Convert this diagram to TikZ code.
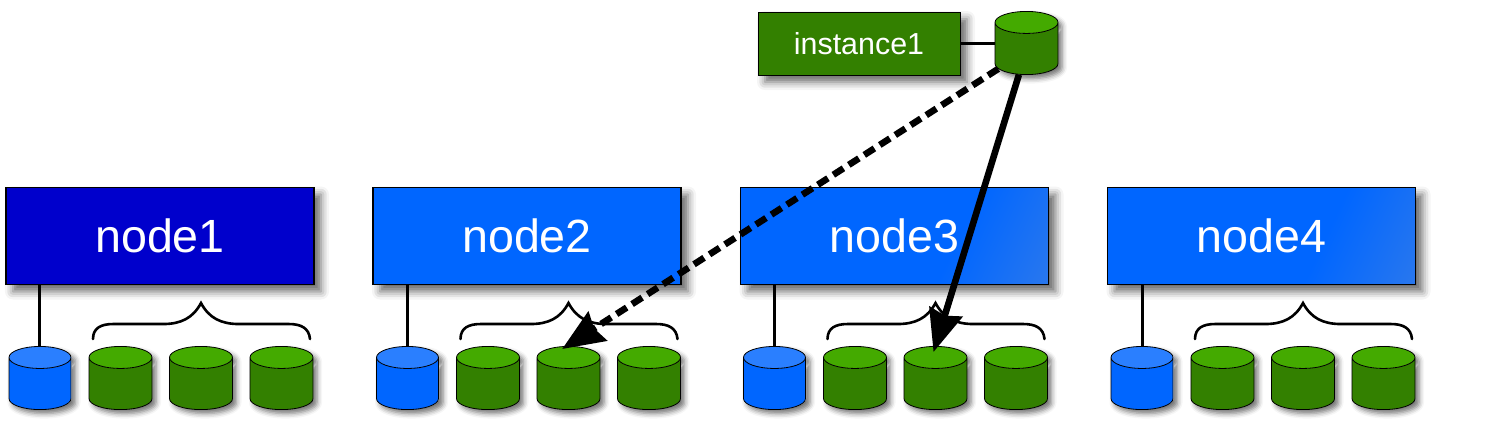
\documentclass[tikz,border=0pt]{standalone}
\usepackage{fontspec}
\setmainfont{Liberation Sans}
\usetikzlibrary{arrows.meta}
\usetikzlibrary{calc}
\usetikzlibrary{shadows.blur}
\usetikzlibrary{shapes.geometric}
\definecolor{nodeblue}{HTML}{0066FF}
\definecolor{nodedark}{HTML}{0000CC}
\definecolor{nodepale}{HTML}{4A85E0}
\definecolor{diskblue}{HTML}{2A7FFF}
\definecolor{diskgreen}{HTML}{338000}
\definecolor{disklight}{HTML}{44AA00}
\pgfdeclarehorizontalshading{nodefade}{100bp}{color(0bp)=(nodeblue); color(62bp)=(nodeblue); color(100bp)=(nodepale)}
\tikzset{
  boxdrop/.style={blur shadow={shadow xshift=3.5pt,shadow yshift=-3.5pt,shadow blur radius=4pt,shadow opacity=60}},
  nodebox/.style={boxdrop,draw=black,line width=.6pt,text=white,font=\fontsize{23.3}{23.3}\selectfont,
    minimum width=154pt,minimum height=48.5pt,inner sep=0pt},
  instbox/.style={boxdrop,draw=black,line width=.5pt,fill=diskgreen,text=white,font=\fontsize{15.2}{15.2}\selectfont,
    minimum width=101pt,minimum height=31.5pt,inner sep=0pt},
  diskform/.style={shape=cylinder,shape border rotate=90,shape aspect=.55,anchor=shape center,line width=.4pt,
    minimum width=31.5pt,minimum height=29.5pt,inner sep=10pt},
  diskshade/.style={diskform,fill=white,
    blur shadow={shadow xshift=2pt,shadow yshift=-2pt,shadow blur radius=2.5pt,shadow opacity=55}},
  disk/.style={diskform,draw=black,cylinder uses custom fill},
  greendisk/.style={disk,cylinder body fill=diskgreen,cylinder end fill=disklight},
  bluedisk/.style={disk,minimum width=31pt,cylinder body fill=nodeblue,cylinder end fill=diskblue},
  tie/.style={draw=black,line width=1.5pt},
  curly/.style={draw=black,line width=1.3pt,line cap=round},
  bigtip/.style={-{Stealth[length=21pt,width=17pt,inset=2pt]},line width=3.3pt}
}
\newcommand{\putdisk}[3]{
  \node[diskshade] (#2shade) at #3 {};
  \node[#1] (#2) at #3 {};
}
\begin{document}
\begin{tikzpicture}[x=.5pt,y=-.5pt]
  \useasboundingbox (0,0) rectangle (1497,420);
  % boxes
  \node[nodebox,fill=nodedark] (node1) at (160,236) {node1};
  \node[nodebox,fill=nodeblue] (node2) at (527,236) {node2};
  \node[nodebox,shading=nodefade,shading angle=-25] (node3) at (894.5,236) {node3};
  \node[nodebox,shading=nodefade,shading angle=-25] (node4) at (1261.5,236) {node4};
  % disks below every box
  \foreach \i/\x in {1/40,2/407.5,3/774.5,4/1142} {
    \putdisk{bluedisk}{own\i}{(\x,378)}
    \putdisk{greendisk}{diska\i}{(\x+80.5,378)}
    \putdisk{greendisk}{diskb\i}{(\x+161,378)}
    \putdisk{greendisk}{diskc\i}{(\x+241.5,378)}
    \draw[tie] (own\i.north) -- (own\i.north |- node\i.south);
    \draw[curly,shift={(diskb\i.north)}] (-108,-7) .. controls (-108,-18) and (-100,-22) .. (-88,-22)
      -- (-38,-22) .. controls (-20,-22) and (-8,-28) .. (0,-43)
      .. controls (8,-28) and (20,-22) .. (38,-22) -- (88,-22)
      .. controls (100,-22) and (108,-18) .. (109,-7);
  }
  % instance on top
  \node[instbox] (instance1) at (859,43.5) {instance1};
  \putdisk{greendisk}{instdisk}{(1026.5,43)}
  \draw[tie] (instance1.east) -- (instance1.east -| instdisk.west);
  % moves
  \draw[bigtip,dashed,dash pattern=on 6pt off 3.2pt] (instdisk.208) -- ($(diskb2.north)+(-3.2pt,-1.5pt)$);
  \draw[bigtip] (instdisk.250) -- ($(diskb3.north)+(-1pt,-3pt)$);
\end{tikzpicture}
\end{document}
